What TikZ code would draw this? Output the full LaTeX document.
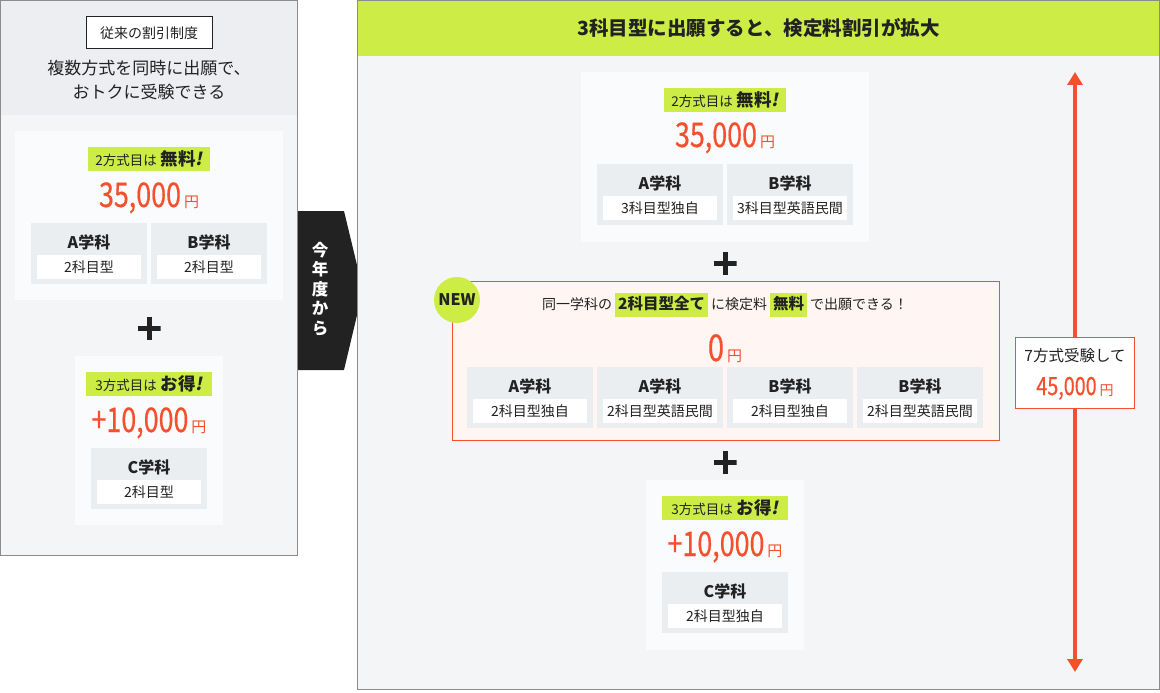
\documentclass[tikz,border=0pt]{standalone}
\usepackage{fontspec}
\setmainfont{Noto Sans CJK JP}
\newfontfamily\jpit{Noto Sans CJK JP}[FakeSlant=0.2]
\newfontfamily\jpnum{Noto Sans CJK JP}[FakeBold=0.6]
\usepackage{graphicx}
\usepackage{tikz}
\usetikzlibrary{positioning,calc,arrows.meta}
\definecolor{colorBorder}{HTML}{8C8C8C}
\definecolor{colorHead}{HTML}{ECEEF1}
\definecolor{colorBody}{HTML}{F4F5F7}
\definecolor{colorCard}{HTML}{FAFBFC}
\definecolor{colorSubj}{HTML}{EBEEF1}
\definecolor{colorLime}{HTML}{CEEC46}
\definecolor{colorPrice}{HTML}{F5502E}
\definecolor{colorNewBg}{HTML}{FFF6F4}
\definecolor{colorInk}{HTML}{222222}
\newcommand{\fs}[1]{\fontsize{#1}{#1}\selectfont}
\newcommand{\kingaku}[3]{\scalebox{0.79}[1]{\jpnum\fs{#1}#2}\hspace{3pt}{\fs{#3}円}}
\newcommand{\hltext}[2]{{\fs{13.5}#1方式目は}\hspace{4pt}{\bfseries\fs{17.5}#2{\jpit !}}}
\newcommand{\hlbox}[1]{{\setlength{\fboxsep}{3pt}\colorbox{colorLime}{\bfseries\fs{15.5}\rule[-4.5pt]{0pt}{18pt}#1}}}
\newcommand{\gakka}[6]{%
  \node[gakkabox, minimum width=#4] (#1) at (#2,#3) {};
  \node[gakkattl] (#1t) at ($(#1.north)+(0,19)$) {#5};
  \node[gakkain, minimum width=#4-12] (#1s) at ($(#1.north)+(0,44)$) {#6};
}
\tikzset{
   every node/.style={text=colorInk},
   panel/.style={draw=colorBorder, line width=1pt},
   card/.style={fill=colorCard, inner sep=0pt, anchor=north west},
   newcard/.style={card, fill=colorNewBg, draw=colorPrice, line width=1pt},
   hl/.style={fill=colorLime, inner sep=0pt, minimum height=24},
   price/.style={text=colorPrice, inner sep=0pt, anchor=base},
   gakkabox/.style={fill=colorSubj, inner sep=0pt, minimum height=61, anchor=north},
   gakkattl/.style={inner sep=0pt, font=\bfseries\fs{16}},
   gakkain/.style={fill=white, inner sep=0pt, minimum height=24, font=\fs{14}},
   tradlabel/.style={draw=colorInk, fill=white, line width=1pt, minimum width=126, minimum height=32, inner sep=0pt, font=\fs{14}},
   lead/.style={align=center, inner sep=0pt, font=\fontsize{17}{24}\selectfont},
   plus/.style={minimum size=23, inner sep=0pt, path picture={
      \draw[line width=5pt, colorInk] (path picture bounding box.north) -- (path picture bounding box.south)
         (path picture bounding box.west) -- (path picture bounding box.east);}},
   kotoshi/.style={text=white, align=center, inner sep=0pt, font=\bfseries\fontsize{16.5}{19.5}\selectfont},
   newmark/.style={circle, fill=colorLime, minimum size=46, inner sep=0pt, font=\bfseries\fs{16}},
   ruler/.style={{Triangle[width=15pt,length=13pt]}-{Triangle[width=15pt,length=13pt]}, line width=4pt, draw=colorPrice},
   sumbox/.style={draw=colorPrice, fill=white, line width=1pt, minimum width=119, minimum height=71, inner sep=0pt},
}
\begin{document}
\begin{tikzpicture}[x=1pt,y=-1pt]
  \useasboundingbox (0,0) rectangle (1160,693);
  % left panel
  \fill[colorBody] (0,0) rectangle (297,555);
  \fill[colorHead] (0,0) rectangle (297,115);
  \draw[panel] (0.5,0.5) rectangle (297,555);
  \node[tradlabel] (trad) at (149,33) {従来の割引制度};
  \node[lead] (tradlead) at (149,80) {複数方式を同時に出願で、\\おトクに受験できる};
  \node[card, minimum width=268, minimum height=169] (cardL1) at (15,131) {};
  \node[hl, minimum width=122] (hlL1) at (149,159) {\hltext{2}{無料}};
  \node[price] (priceL1) at (149,207) {\kingaku{34}{35,000}{15}};
  \gakka{gkLA}{89}{223}{116}{A学科}{2科目型}
  \gakka{gkLB}{209}{223}{116}{B学科}{2科目型}
  \node[plus] (plusL) at (149,328) {};
  \node[card, minimum width=148, minimum height=169] (cardL2) at (75,356) {};
  \node[hl, minimum width=126] (hlL2) at (149,384) {\hltext{3}{お得}};
  \node[price] (priceL2) at (149,432) {\kingaku{34}{+10,000}{15}};
  \gakka{gkLC}{149}{448}{116}{C学科}{2科目型}
  % arrow
  \fill[colorInk] (298,211) -- (344,211) -- (363,290) -- (344,370) -- (298,370) -- cycle;
  \node[kotoshi] (kotoshi) at (320,289) {今\\年\\度\\か\\ら};
  % right panel
  \fill[colorBody] (357,0) rectangle (1160,690);
  \fill[colorLime] (357,0) rectangle (1160,56);
  \draw[panel] (357.5,0.5) rectangle (1159.5,689.5);
  \node[font=\bfseries\fs{19.5}] (headR) at (758.5,28) {3科目型に出願すると、検定料割引が拡大};
  \node[card, minimum width=288, minimum height=170] (cardR1) at (581,72) {};
  \node[hl, minimum width=122] (hlR1) at (725,100) {\hltext{2}{無料}};
  \node[price] (priceR1) at (725,147) {\kingaku{34}{35,000}{15}};
  \gakka{gkRA}{660}{164}{126}{A学科}{3科目型独自}
  \gakka{gkRB}{790}{164}{126}{B学科}{3科目型英語民間}
  \node[plus] (plusR1) at (725,263) {};
  \node[newcard, minimum width=547, minimum height=159] (cardNew) at (452,281) {};
  \node[newmark] (new) at (457,300) {NEW};
  \node[inner sep=0pt, font=\fs{14}] (newtxt) at (725,305) {同一学科の\hspace{3pt}\hlbox{2科目型全て}\hspace{3pt}に検定料\hspace{3pt}\hlbox{無料}\hspace{3pt}で出願できる！};
  \node[price] (priceNew) at (725,361) {\kingaku{37}{0}{15}};
  \gakka{gkNA}{530}{367}{126}{A学科}{2科目型独自}
  \gakka{gkNB}{660}{367}{126}{A学科}{2科目型英語民間}
  \gakka{gkNC}{790}{367}{126}{B学科}{2科目型独自}
  \gakka{gkND}{920}{367}{126}{B学科}{2科目型英語民間}
  \node[plus] (plusR2) at (725,462) {};
  \node[card, minimum width=158, minimum height=170] (cardR2) at (646,480) {};
  \node[hl, minimum width=126] (hlR2) at (725,508) {\hltext{3}{お得}};
  \node[price] (priceR2) at (725,556) {\kingaku{34}{+10,000}{15}};
  \gakka{gkRC}{725}{572}{126}{C学科}{2科目型独自}
  % total
  \coordinate (rulerTop) at (1075,72);
  \coordinate (rulerBot) at (1075,672);
  \draw[ruler] (rulerTop) -- (rulerBot);
  \node[sumbox] (sum) at (1075,372.5) {};
  \node[inner sep=0pt, font=\fs{15.5}] (sumtxt) at (1075,356) {7方式受験して};
  \node[price] (sumprice) at (1075,395) {\kingaku{25}{45,000}{14}};
\end{tikzpicture}
\end{document}
